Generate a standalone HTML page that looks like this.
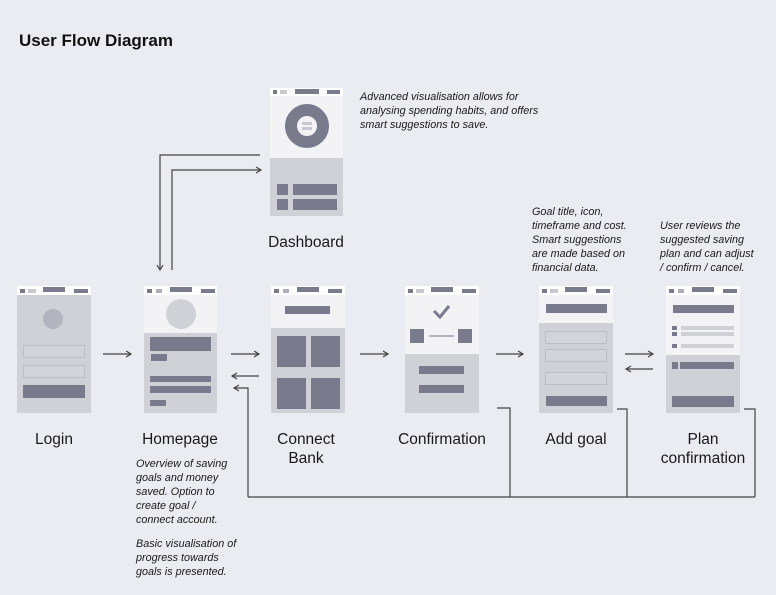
<!DOCTYPE html>
<html><head><meta charset="utf-8"><style>
html,body{margin:0;padding:0;background:#ebebf2;}
svg{display:block}
.l{font-family:"Liberation Sans",sans-serif;font-size:15.5px;fill:#1a1a1a;text-anchor:middle}
.n{font-family:"Liberation Sans",sans-serif;font-size:10.8px;font-style:italic;fill:#1a1a1a}
</style></head><body>
<svg width="776" height="595" viewBox="0 0 776 595" xmlns="http://www.w3.org/2000/svg">
<defs>
<marker id="a" markerWidth="8" markerHeight="8" refX="6" refY="4" orient="auto" markerUnits="userSpaceOnUse">
<path d="M1,1 L6,4 L1,7" fill="none" stroke="#444" stroke-width="1.2"/></marker>
</defs>
<rect width="776" height="595" fill="#ebebf2"/>
<text x="19" y="46" font-family="Liberation Sans,sans-serif" font-weight="bold" font-size="17" fill="#111">User Flow Diagram</text>

<!-- Dashboard -->
<rect x="270" y="88" width="73" height="128" fill="#d0d0d7"/>
<rect x="270" y="88" width="73" height="70" fill="#f3f3f6"/>
<rect x="270" y="88" width="73" height="8" fill="#fff"/>
<rect x="273" y="90" width="4" height="4" fill="#797a8c"/><rect x="280" y="90" width="7" height="4" fill="#c8c8d0"/><rect x="295" y="89" width="24" height="5" fill="#797a8c"/><rect x="327" y="90" width="13" height="4" fill="#797a8c"/>
<circle cx="307" cy="126" r="16" fill="none" stroke="#797a8c" stroke-width="12"/>
<circle cx="307" cy="126" r="9" fill="#f3f3f6"/>
<rect x="302" y="122" width="10" height="3" fill="#c8c8d0"/><rect x="302" y="127" width="10" height="3" fill="#c8c8d0"/>
<rect x="277" y="184" width="11" height="11" fill="#797a8c"/><rect x="293" y="184" width="44" height="11" fill="#797a8c"/>
<rect x="277" y="199" width="11" height="11" fill="#797a8c"/><rect x="293" y="199" width="44" height="11" fill="#797a8c"/>

<!-- Login -->
<rect x="17" y="286" width="74" height="127" fill="#d0d0d7"/>
<rect x="17" y="286" width="74" height="9" fill="#fff"/>
<rect x="20" y="289" width="5" height="4" fill="#797a8c"/><rect x="28" y="289" width="8" height="4" fill="#c8c8d0"/><rect x="43" y="287" width="22" height="5" fill="#797a8c"/><rect x="74" y="289" width="14" height="4" fill="#797a8c"/>
<circle cx="53" cy="319" r="10" fill="#b4b4bf"/>
<rect x="23.5" y="345.5" width="61" height="12" fill="#d3d3da" stroke="#bdbdc6"/>
<rect x="23.5" y="365.5" width="61" height="12" fill="#d3d3da" stroke="#bdbdc6"/>
<rect x="23" y="385" width="62" height="13" fill="#797a8c"/>

<!-- Homepage -->
<rect x="144" y="286" width="73" height="127" fill="#d0d0d7"/>
<rect x="144" y="286" width="73" height="47" fill="#f3f3f6"/>
<rect x="144" y="286" width="73" height="9" fill="#fff"/>
<rect x="147" y="289" width="5" height="4" fill="#797a8c"/><rect x="156" y="289" width="6" height="4" fill="#797a8c" opacity=".6"/><rect x="170" y="287" width="22" height="5" fill="#797a8c"/><rect x="201" y="289" width="14" height="4" fill="#797a8c"/>
<circle cx="181" cy="314" r="15" fill="#d0d0d7"/>
<rect x="150" y="337" width="61" height="14" fill="#797a8c"/>
<rect x="151" y="354" width="16" height="7" fill="#797a8c"/>
<rect x="150" y="376" width="61" height="6" fill="#797a8c"/>
<rect x="150" y="386" width="61" height="7" fill="#797a8c"/>
<rect x="150" y="400" width="16" height="6" fill="#797a8c"/>

<!-- Connect Bank -->
<rect x="271" y="286" width="74" height="127" fill="#d0d0d7"/>
<rect x="271" y="286" width="74" height="42" fill="#f3f3f6"/>
<rect x="271" y="286" width="74" height="9" fill="#fff"/>
<rect x="274" y="289" width="5" height="4" fill="#797a8c"/><rect x="283" y="289" width="6" height="4" fill="#797a8c" opacity=".6"/><rect x="297" y="287" width="22" height="5" fill="#797a8c"/><rect x="328" y="289" width="14" height="4" fill="#797a8c"/>
<rect x="285" y="306" width="45" height="8" fill="#797a8c"/>
<rect x="277" y="336" width="29" height="31" fill="#797a8c"/><rect x="311" y="336" width="29" height="31" fill="#797a8c"/>
<rect x="277" y="378" width="29" height="31" fill="#797a8c"/><rect x="311" y="378" width="29" height="31" fill="#797a8c"/>

<!-- Confirmation -->
<rect x="405" y="286" width="74" height="127" fill="#d0d0d7"/>
<rect x="405" y="286" width="74" height="68" fill="#f3f3f6"/>
<rect x="405" y="286" width="74" height="9" fill="#fff"/>
<rect x="408" y="289" width="5" height="4" fill="#797a8c"/><rect x="416" y="289" width="8" height="4" fill="#c8c8d0"/><rect x="431" y="287" width="22" height="5" fill="#797a8c"/><rect x="462" y="289" width="14" height="4" fill="#797a8c"/>
<path d="M434,311 L440,317 L449,306" fill="none" stroke="#797a8c" stroke-width="3"/>
<rect x="410" y="329" width="14" height="14" fill="#797a8c"/><rect x="458" y="329" width="14" height="14" fill="#797a8c"/>
<line x1="429" y1="336" x2="454" y2="336" stroke="#797a8c"/>
<rect x="419" y="366" width="45" height="8" fill="#797a8c"/>
<rect x="419" y="385" width="45" height="8" fill="#797a8c"/>

<!-- Add goal -->
<rect x="539" y="286" width="74" height="127" fill="#d0d0d7"/>
<rect x="539" y="286" width="74" height="37" fill="#f3f3f6"/>
<rect x="539" y="286" width="74" height="9" fill="#fff"/>
<rect x="542" y="289" width="5" height="4" fill="#797a8c"/><rect x="550" y="289" width="8" height="4" fill="#c8c8d0"/><rect x="565" y="287" width="22" height="5" fill="#797a8c"/><rect x="596" y="289" width="14" height="4" fill="#797a8c"/>
<rect x="546" y="304" width="61" height="9" fill="#797a8c"/>
<rect x="545.5" y="331.5" width="61" height="12" fill="#d3d3da" stroke="#bdbdc6"/>
<rect x="545.5" y="349.5" width="61" height="12" fill="#d3d3da" stroke="#bdbdc6"/>
<rect x="545.5" y="372.5" width="61" height="12" fill="#d3d3da" stroke="#bdbdc6"/>
<rect x="546" y="396" width="61" height="10" fill="#797a8c"/>

<!-- Plan confirmation -->
<rect x="666" y="286" width="74" height="127" fill="#d0d0d7"/>
<rect x="666" y="286" width="74" height="69" fill="#f3f3f6"/>
<rect x="666" y="286" width="74" height="9" fill="#fff"/>
<rect x="669" y="289" width="5" height="4" fill="#797a8c"/><rect x="678" y="289" width="6" height="4" fill="#797a8c" opacity=".6"/><rect x="692" y="287" width="22" height="5" fill="#797a8c"/><rect x="723" y="289" width="14" height="4" fill="#797a8c"/>
<rect x="673" y="305" width="61" height="8" fill="#797a8c"/>
<rect x="672" y="326" width="5" height="4" fill="#797a8c"/><rect x="681" y="326" width="53" height="4" fill="#d0d0d7"/>
<rect x="672" y="332" width="5" height="4" fill="#797a8c"/><rect x="681" y="332" width="53" height="4" fill="#d0d0d7"/>
<rect x="672" y="344" width="5" height="4" fill="#797a8c"/><rect x="681" y="344" width="53" height="4" fill="#d0d0d7"/>
<rect x="672" y="362" width="6" height="7" fill="#797a8c"/><rect x="680" y="362" width="54" height="7" fill="#797a8c"/>
<rect x="672" y="396" width="62" height="11" fill="#797a8c"/>

<!-- connectors -->
<g stroke="#444" stroke-width="1.2" fill="none">
<line x1="103" y1="354" x2="131" y2="354" marker-end="url(#a)"/>
<line x1="231" y1="354" x2="259" y2="354" marker-end="url(#a)"/>
<line x1="259" y1="376" x2="232" y2="376" marker-end="url(#a)"/>
<line x1="360" y1="354" x2="388" y2="354" marker-end="url(#a)"/>
<line x1="496" y1="354" x2="523" y2="354" marker-end="url(#a)"/>
<line x1="625" y1="354" x2="653" y2="354" marker-end="url(#a)"/>
<line x1="653" y1="369" x2="626" y2="369" marker-end="url(#a)"/>
<polyline points="260,155 160,155 160,270" marker-end="url(#a)"/>
<polyline points="172,270 172,170 261,170" marker-end="url(#a)"/>
<polyline points="248,497 248,388 234,388" marker-end="url(#a)"/>
<line x1="248" y1="497" x2="755" y2="497"/>
<polyline points="497,408 510,408 510,497"/>
<polyline points="617,409 627,409 627,497"/>
<polyline points="744,409 755,409 755,497"/>
</g>

<!-- labels -->
<text class="l" x="54" y="444">Login</text>
<text class="l" x="180" y="444">Homepage</text>
<text class="l" x="306" y="444">Connect</text>
<text class="l" x="306" y="463">Bank</text>
<text class="l" x="442" y="444">Confirmation</text>
<text class="l" x="576" y="444">Add goal</text>
<text class="l" x="703" y="444">Plan</text>
<text class="l" x="703" y="463">confirmation</text>
<text class="l" x="306" y="247">Dashboard</text>

<g class="n">
<text x="136" y="467">Overview of saving</text>
<text x="136" y="481">goals and money</text>
<text x="136" y="495">saved. Option to</text>
<text x="136" y="509">create goal /</text>
<text x="136" y="523">connect account.</text>
<text x="136" y="547">Basic visualisation of</text>
<text x="136" y="561">progress towards</text>
<text x="136" y="575">goals is presented.</text>
<text x="360" y="100">Advanced visualisation allows for</text>
<text x="360" y="114">analysing spending habits, and offers</text>
<text x="360" y="128">smart suggestions to save.</text>
<text x="532" y="215">Goal title, icon,</text>
<text x="532" y="229">timeframe and cost.</text>
<text x="532" y="243">Smart suggestions</text>
<text x="532" y="257">are made based on</text>
<text x="532" y="271">financial data.</text>
<text x="660" y="229">User reviews the</text>
<text x="660" y="243">suggested saving</text>
<text x="660" y="257">plan and can adjust</text>
<text x="660" y="271">/ confirm / cancel.</text>
</g>
</svg>
</body></html>
